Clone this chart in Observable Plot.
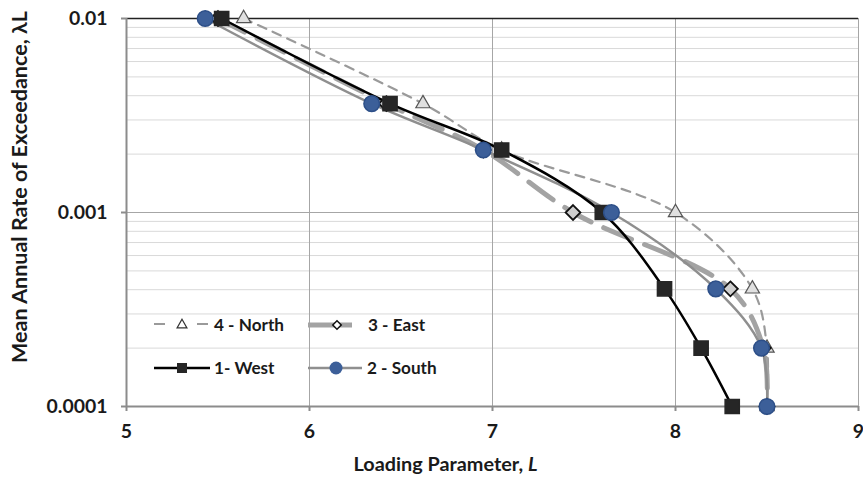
<!DOCTYPE html>
<html><head><meta charset="utf-8">
<script src="https://cdn.jsdelivr.net/npm/d3@7"></script>
<script src="https://cdn.jsdelivr.net/npm/@observablehq/plot@0.6"></script>
<style>
body{margin:0;background:#fff;font-family:Lato,"Open Sans",sans-serif;}
#wrap{position:relative;width:863px;height:489px;}
#legend{position:absolute;left:0;top:0;width:863px;height:489px;pointer-events:none;}
</style></head>
<body><div id="wrap"></div>
<script>
// Exceedance rates (return periods 100, 275, 475, 1000, 2475, 5000, 10000 yr)
const rates = [0.01, 0.00364, 0.0021, 0.001, 0.000404, 0.0002, 0.0001];
const west  = [5.52, 6.44, 7.05, 7.60, 7.94, 8.14, 8.31];
const south = [5.43, 6.34, 6.95, 7.65, 8.22, 8.47, 8.50];
const east  = [5.50, 6.42, 6.95, 7.44, 8.30, 8.48, 8.50];
const north = [5.64, 6.62, 7.05, 8.00, 8.42, 8.50, 8.50];
const xTicks = [5, 6, 7, 8, 9];
const yTicks = [0.01, 0.001, 0.0001];
const yTickLabels = ["0.01", "0.001", "0.0001"];
const minorY = [2,3,4,5,6,7,8,9].flatMap(m => [m*1e-4, m*1e-3]);
const yTitle = "Mean Annual Rate of Exceedance, λL";
const xTitleA = "Loading Parameter, ";
const xTitleB = "L";

const pts = arr => arr.map((x, i) => ({x, y: rates[i]}));
const W = pts(west), S = pts(south), E = pts(east), N = pts(north);

const FAM = "Lato";
const font = "Lato, 'Open Sans', sans-serif";
const ctx = document.createElement("canvas").getContext("2d");
function mw(t, size, style = "normal") { ctx.font = `${style} bold ${size}px ${FAM}`; return ctx.measureText(t).width; }
function fit(t, target) { return 20 * target / mw(t, 20); }
const tickSize = Math.min(21, fit("0.0001", 61));
const yTitleSize = Math.min(22, fit(yTitle, 353));
const xTitleSize = Math.min(22, 20 * 184 / (mw(xTitleA, 20) + mw(xTitleB, 20, "italic")));
const wA = mw(xTitleA, xTitleSize), wB = mw(xTitleB, xTitleSize, "italic");
const xTitleShift = -47 + (wA + wB) / 2 - wB; // position of junction relative to frame centre

const chart = Plot.plot({
  width: 863, height: 489,
  marginLeft: 126, marginRight: 5, marginTop: 18, marginBottom: 83,
  style: {fontFamily: font, fontWeight: "bold", fontSize: tickSize + "px", color: "#1a1a1a", background: "#fff"},
  x: {domain: [5, 9]},
  y: {type: "log", domain: [1e-4, 1e-2]},
  marks: [
    Plot.ruleY(minorY, {stroke: "#d9d9d9", strokeWidth: 1}),
    Plot.ruleY([0.001], {stroke: "#a6a6a6", strokeWidth: 1}),
    Plot.ruleX(xTicks.filter(d => d > 5), {stroke: "#a6a6a6", strokeWidth: 1}),
    Plot.ruleY([0.01], {stroke: "#222", strokeWidth: 1.5}),
    Plot.ruleX([5], {stroke: "#8c8c8c", strokeWidth: 2}),
    Plot.ruleY([0.0001], {stroke: "#8c8c8c", strokeWidth: 2}),
    Plot.axisX({ticks: xTicks, tickSize: 5, tickPadding: 13, stroke: "#8c8c8c", strokeWidth: 2, fontSize: tickSize, label: null, tickFormat: d => String(d)}),
    Plot.axisY({ticks: yTicks, tickSize: 5, tickPadding: 14, stroke: "#8c8c8c", strokeWidth: 2, fontSize: tickSize, label: null, tickFormat: d => yTickLabels[yTicks.indexOf(d)]}),
    // lines
    Plot.line(N, {x: "x", y: "y", curve: "catmull-rom", stroke: "#9a9a9a", strokeWidth: 2.2, strokeDasharray: "9,7"}),
    Plot.line(E, {x: "x", y: "y", curve: "catmull-rom", stroke: "#a3a3a3", strokeWidth: 5, strokeDasharray: "30,14"}),
    Plot.line(S, {x: "x", y: "y", curve: "catmull-rom", stroke: "#8f8f8f", strokeWidth: 2.5}),
    Plot.line(W, {x: "x", y: "y", curve: "catmull-rom", stroke: "#000", strokeWidth: 2.5}),
    // markers
    Plot.dot(N, {x: "x", y: "y", symbol: "triangle", r: 5.3, fill: "#e0e0e0", stroke: "#555", strokeWidth: 1.2}),
    Plot.dot(E, {x: "x", y: "y", symbol: "diamond2", r: 6.7, fill: "#cfcfcf", stroke: "#111", strokeWidth: 1.8}),
    Plot.dot(W, {x: "x", y: "y", symbol: "square", r: 8, fill: "#262626", stroke: "#262626"}),
    Plot.dot(S, {x: "x", y: "y", symbol: "circle", r: 7.8, fill: "#3c5f99", stroke: "#2d4f88", strokeWidth: 1.5}),
    // axis titles
    Plot.text([yTitle], {frameAnchor: "left", dx: -106, dy: -25.5, rotate: -90, textAnchor: "middle", fontSize: yTitleSize, fontWeight: "bold", fill: "#1a1a1a"}),
    Plot.text([xTitleA], {frameAnchor: "bottom", dx: xTitleShift, dy: 64, textAnchor: "end", fontSize: xTitleSize, fontWeight: "bold", fill: "#1a1a1a"}),
    Plot.text([xTitleB], {frameAnchor: "bottom", dx: xTitleShift, dy: 64, textAnchor: "start", fontSize: xTitleSize, fontWeight: "bold", fontStyle: "italic", fill: "#1a1a1a"})
  ]
});
document.getElementById("wrap").appendChild(chart);

// Legend overlay (inside plot area)
const legSize = Math.min(19, fit("4 - North", 70));
const leg = d3.select("#wrap").append("svg").attr("id", "legend").attr("width", 863).attr("height", 489);
const lf = {"font-family": font, "font-weight": "bold", "font-size": legSize + "px", fill: "#1a1a1a"};
function txt(x, y, s){ const t = leg.append("text").attr("x", x).attr("y", y).attr("dy", "0.35em").text(s); for (const k in lf) t.attr(k, lf[k]); }
// North
leg.append("line").attr("x1",154).attr("x2",209).attr("y1",324).attr("y2",324).attr("stroke","#9a9a9a").attr("stroke-width",2.2).attr("stroke-dasharray","11,32");
leg.append("path").attr("d", d3.symbol(d3.symbolTriangle, 42)()).attr("transform","translate(182,325)").attr("fill","#fff").attr("stroke","#333").attr("stroke-width",1.2);
txt(214, 325, "4 - North");
// East
leg.append("line").attr("x1",308).attr("x2",352).attr("y1",325).attr("y2",325).attr("stroke","#a3a3a3").attr("stroke-width",5);
leg.append("path").attr("d", d3.symbol(d3.symbolSquare, 36)()).attr("transform","translate(337,325) rotate(45)").attr("fill","#fff").attr("stroke","#111").attr("stroke-width",1.5);
txt(368, 325, "3 - East");
// West
leg.append("line").attr("x1",154).attr("x2",210).attr("y1",368).attr("y2",368).attr("stroke","#000").attr("stroke-width",2.5);
leg.append("path").attr("d", d3.symbol(d3.symbolSquare, 100)()).attr("transform","translate(182,368)").attr("fill","#262626");
txt(214, 368, "1- West");
// South
leg.append("line").attr("x1",308).attr("x2",362).attr("y1",368).attr("y2",368).attr("stroke","#8f8f8f").attr("stroke-width",2.5);
leg.append("circle").attr("cx",336).attr("cy",368).attr("r",6.5).attr("fill","#3c5f99");
txt(367, 368, "2 - South");
</script></body></html>
